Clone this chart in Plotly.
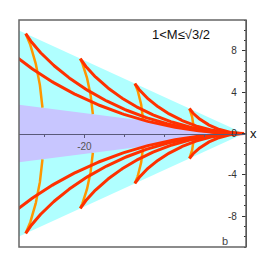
import numpy as np
import plotly.graph_objects as go

# ---- data -------------------------------------------------------------
crest_orders = [1, 2, 3, 4, 5]          # divergent crests (red)
transverse_orders = [1, 2, 3, 4, 5]     # transverse crests (orange)
crest_spacing = 2 * np.pi               # wavelength along the track
cusp_slope = 0.3536                     # edge of the cyan wedge  (y/x)
inner_slope = 0.099                     # edge of the lavender wedge (y/x)
wedge_far_x = -40.0                     # wedges run off the left edge
y_tick_vals = [8, 4, 0, -4, -8]
y_tick_text = ["8", "4", "0", "-4", "-8"]
x_tick_vals = [-20]
x_tick_text = ["-20"]
x_minor_vals = [-25, -15, -10, -5]
title_text = "1<M≤√3/2"

RED = "rgb(255,48,0)"
ORANGE = "rgb(255,150,0)"
CYAN = "rgb(176,255,255)"
LAVENDER = "rgb(200,198,255)"

theta_c = np.arctan(1 / np.sqrt(2))


def crest(a, t):
    return -a * np.cos(t) * (1 + np.sin(t) ** 2), a * np.sin(t) * np.cos(t) ** 2


grid = np.linspace(0, theta_c, 20001)
ratio = np.sin(grid) * np.cos(grid) / (1 + np.sin(grid) ** 2)
theta_min = grid[np.argmax(ratio >= inner_slope)]

fig = go.Figure()

# wedges
for slope, col in [(cusp_slope, CYAN), (inner_slope, LAVENDER)]:
    fig.add_trace(go.Scatter(
        x=[0, wedge_far_x, wedge_far_x, 0],
        y=[0, -slope * wedge_far_x, slope * wedge_far_x, 0],
        fill="toself", fillcolor=col, mode="lines",
        line=dict(width=0, color=col), hoverinfo="skip", showlegend=False))

# transverse crests (orange)
for k in transverse_orders:
    a = k * crest_spacing
    t = np.linspace(theta_min, theta_c, 80)
    x, y = crest(a, t)
    for sgn in (1, -1):
        fig.add_trace(go.Scatter(x=x, y=sgn * y, mode="lines",
                                 line=dict(color=ORANGE, width=2.5),
                                 hoverinfo="skip", showlegend=False))

# divergent crests (red)
for k in crest_orders:
    a = k * crest_spacing
    t = np.linspace(theta_c, np.pi / 2, 200)
    x, y = crest(a, t)
    for sgn in (1, -1):
        fig.add_trace(go.Scatter(x=x, y=sgn * y, mode="lines",
                                 line=dict(color=RED, width=3),
                                 hoverinfo="skip", showlegend=False))

fig.update_layout(
    width=266, height=267,
    margin=dict(l=19, r=20, t=20, b=20, autoexpand=False),
    paper_bgcolor="white", plot_bgcolor="white",
    font=dict(family="Liberation Sans, Arial, sans-serif", size=10, color="#444"),
    xaxis=dict(range=[-28.2, 0.25], showgrid=False, zeroline=False,
               automargin=False,
               anchor="free", position=0.5, showline=True,
               linecolor="#5a5a7a", linewidth=1,
               tickmode="array", tickvals=x_tick_vals, ticktext=x_tick_text,
               ticks="outside", ticklen=3, tickcolor="#5a5a7a",
               minor=dict(tickmode="array", tickvals=x_minor_vals,
                          ticks="outside", ticklen=2, tickcolor="#5a5a7a"),
               tickfont=dict(size=10, color="#555")),
    yaxis=dict(range=[-11, 11], showgrid=False, zeroline=False,
               automargin=False,
               side="left", anchor="free", position=1.0,
               showline=True, linecolor="#333", linewidth=1.2,
               tickmode="array", tickvals=y_tick_vals, ticktext=y_tick_text,
               ticks="outside", ticklen=4, tickcolor="#333",
               ticklabelstandoff=3,
               minor=dict(dtick=1, ticks="outside", ticklen=2, tickcolor="#333"),
               tickfont=dict(size=10, color="#333")),
    shapes=[dict(type="rect", xref="paper", yref="paper", x0=0, x1=1, y0=0, y1=1,
                 line=dict(color="#666", width=1.5), layer="above")],
    annotations=[
        dict(text=title_text, xref="paper", yref="paper", x=0.714, y=0.934,
             showarrow=False, font=dict(size=13, color="#111"),
             xanchor="center", yanchor="middle"),
        dict(text="x", xref="paper", yref="paper", x=1.035, y=0.5,
             showarrow=False, font=dict(size=13, color="#111"),
             xanchor="center", yanchor="middle"),
        dict(text="b", xref="paper", yref="paper", x=0.907, y=0.026,
             showarrow=False, font=dict(size=11, color="#444"),
             xanchor="center", yanchor="middle"),
    ],
)

fig.write_html("out.html", config={"displayModeBar": False},
               post_script="document.body.style.margin='0';")
